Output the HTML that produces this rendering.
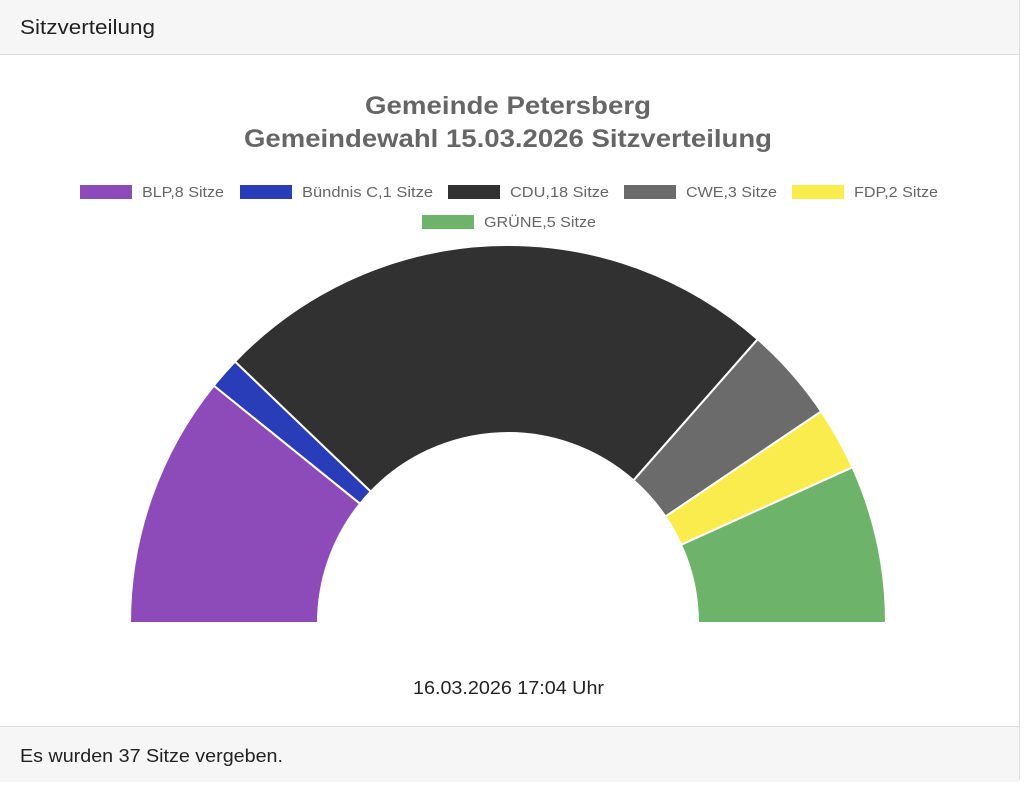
<!DOCTYPE html>
<html><head><meta charset="utf-8"><style>
body{margin:0;background:#fff;font-family:"Liberation Sans",sans-serif;width:1024px;height:787px;overflow:hidden;position:relative}
.card{position:absolute;left:0;top:-2px;width:1019px;height:782px;border:1px solid #ddd;border-left:none;border-radius:0 0 4px 0;background:#fff}
.hd{position:absolute;left:0;top:0;width:100%;height:55px;background:#f6f6f6;border-bottom:1px solid #ddd}
.ft{position:absolute;left:0;top:727px;width:100%;height:55px;background:#f6f6f6;border-top:1px solid #ddd}
</style></head><body>
<div class="card">
<div class="hd"></div>
<div class="ft"></div>
</div>
<svg width="1024" height="787" style="position:absolute;left:0;top:0">
<g font-family="Liberation Sans, sans-serif" fill="#222">
<text x="20" y="34" font-size="20" textLength="135" lengthAdjust="spacingAndGlyphs">Sitzverteilung</text>
<text x="20" y="762" font-size="18" textLength="263" lengthAdjust="spacingAndGlyphs">Es wurden 37 Sitze vergeben.</text>
<text x="413" y="694" font-size="18" textLength="191" lengthAdjust="spacingAndGlyphs">16.03.2026 17:04 Uhr</text>
</g>
<g font-family="Liberation Sans, sans-serif" fill="#666" font-weight="bold" font-size="25">
<text x="365" y="114" textLength="286" lengthAdjust="spacingAndGlyphs">Gemeinde Petersberg</text>
<text x="244" y="147" textLength="528" lengthAdjust="spacingAndGlyphs">Gemeindewahl 15.03.2026 Sitzverteilung</text>
</g>
<g font-family="Liberation Sans, sans-serif" fill="#666" font-size="15">
<rect x="80" y="185" width="52" height="14" fill="#8c4bb8"/><text x="142" y="197" textLength="82" lengthAdjust="spacingAndGlyphs">BLP,8 Sitze</text>
<rect x="240" y="185" width="52" height="14" fill="#2a3db8"/><text x="302" y="197" textLength="131" lengthAdjust="spacingAndGlyphs">Bündnis C,1 Sitze</text>
<rect x="448" y="185" width="52" height="14" fill="#323132"/><text x="510" y="197" textLength="99" lengthAdjust="spacingAndGlyphs">CDU,18 Sitze</text>
<rect x="624" y="185" width="52" height="14" fill="#6b6b6b"/><text x="686" y="197" textLength="91" lengthAdjust="spacingAndGlyphs">CWE,3 Sitze</text>
<rect x="792" y="185" width="52" height="14" fill="#fbec4e"/><text x="854" y="197" textLength="84" lengthAdjust="spacingAndGlyphs">FDP,2 Sitze</text>
<rect x="422" y="215" width="52" height="14" fill="#6db36a"/><text x="484" y="227" textLength="112" lengthAdjust="spacingAndGlyphs">GRÜNE,5 Sitze</text>
</g>
<g stroke="#fff" stroke-width="2">
<path d="M130,623 A378,378 0 0 1 213.8,385.6 L360.1,503.7 A190,190 0 0 0 318,623 Z" fill="#8c4bb8"/>
<path d="M213.8,385.6 A378,378 0 0 1 235,361.5 L370.8,491.6 A190,190 0 0 0 360.1,503.7 Z" fill="#2a3db8"/>
<path d="M235,361.5 A378,378 0 0 1 757.7,339.2 L633.5,480.4 A190,190 0 0 0 370.8,491.6 Z" fill="#323132"/>
<path d="M757.7,339.2 A378,378 0 0 1 821.2,411.4 L665.4,516.6 A190,190 0 0 0 633.5,480.4 Z" fill="#6b6b6b"/>
<path d="M821.2,411.4 A378,378 0 0 1 852.5,467.3 L681.1,544.8 A190,190 0 0 0 665.4,516.6 Z" fill="#fbec4e"/>
<path d="M852.5,467.3 A378,378 0 0 1 886,623 L698,623 A190,190 0 0 0 681.1,544.8 Z" fill="#6db36a"/>
</g>
</svg>
</body></html>
